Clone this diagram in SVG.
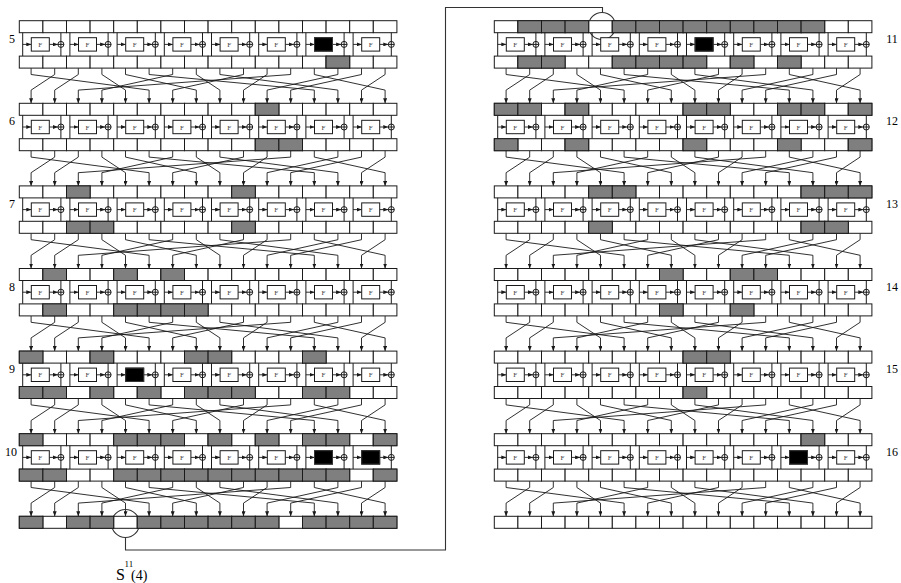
<svg xmlns="http://www.w3.org/2000/svg" width="901" height="583" viewBox="0 0 901 583">
<style>
.c{fill:#fff;stroke:#1a1a1a;stroke-width:1}
.g{fill:#7f7f7f;stroke:#1a1a1a;stroke-width:1}
.k{fill:#000;stroke:#333;stroke-width:1}
.ln{fill:none;stroke:#1a1a1a;stroke-width:1}
.w{fill:none;stroke:#1a1a1a;stroke-width:0.9;marker-end:url(#ah)}
.ft{font-family:"Liberation Serif",serif;font-size:7px;fill:#444;text-anchor:middle}
.lb{font-family:"Liberation Serif",serif;font-size:12px;fill:#000;text-anchor:middle}
.st{font-family:"Liberation Serif",serif;fill:#000}
.loop{fill:none;stroke:#333;stroke-width:1.1}
</style>
<defs>
<marker id="ah" markerWidth="5" markerHeight="4" refX="5" refY="2" orient="auto" markerUnits="userSpaceOnUse"><path d="M0,0L5,2L0,4z" fill="#1a1a1a"/></marker>
<rect id="gc" class="g" width="23.6" height="12"/>
<rect id="kf" class="k" x="12" y="17" width="18" height="13.4"/>
<g id="row">
<rect class="c" x="0" y="0" width="23.6" height="12"/><rect class="c" x="23.6" y="0" width="23.6" height="12"/><rect class="c" x="47.2" y="0" width="23.6" height="12"/><rect class="c" x="70.8" y="0" width="23.6" height="12"/><rect class="c" x="94.4" y="0" width="23.6" height="12"/><rect class="c" x="118" y="0" width="23.6" height="12"/><rect class="c" x="141.6" y="0" width="23.6" height="12"/><rect class="c" x="165.2" y="0" width="23.6" height="12"/><rect class="c" x="188.8" y="0" width="23.6" height="12"/><rect class="c" x="212.4" y="0" width="23.6" height="12"/><rect class="c" x="236" y="0" width="23.6" height="12"/><rect class="c" x="259.6" y="0" width="23.6" height="12"/><rect class="c" x="283.2" y="0" width="23.6" height="12"/><rect class="c" x="306.8" y="0" width="23.6" height="12"/><rect class="c" x="330.4" y="0" width="23.6" height="12"/><rect class="c" x="354" y="0" width="23.6" height="12"/>
</g>
<g id="pair">
<path class="ln" d="M3.4 12V35.4M41.6 12V35.4M38.6 23.7H44.6"/>
<path class="w" d="M3.4 23.7H12"/>
<path class="w" d="M30 23.7H38.6"/>
<rect class="c" x="12" y="17" width="18" height="13.4"/>
<text class="ft" x="21" y="26.3">F</text>
<circle class="ln" cx="41.6" cy="23.7" r="3"/>
</g>
<g id="mid">
<use href="#pair"/><use href="#pair" x="47.2"/><use href="#pair" x="94.4"/><use href="#pair" x="141.6"/><use href="#pair" x="188.8"/><use href="#pair" x="236"/><use href="#pair" x="283.2"/><use href="#pair" x="330.4"/>
</g>
<g id="round"><use href="#row"/><use href="#mid"/><use href="#row" y="35.4"/></g>
<g id="wires">
<path class="w" d="M11.8 0V6.4L129.8 22V35.2"/>
<path class="w" d="M35.4 0V6.4L11.8 22V35.2"/>
<path class="w" d="M59 0V6.4L35.4 22V35.2"/>
<path class="w" d="M82.6 0V6.4L106.2 22V35.2"/>
<path class="w" d="M106.2 0V6.4L177 22V35.2"/>
<path class="w" d="M129.8 0V6.4L295 22V35.2"/>
<path class="w" d="M153.4 0V6.4L82.6 22V35.2"/>
<path class="w" d="M177 0V6.4L200.6 22V35.2"/>
<path class="w" d="M200.6 0V6.4L318.6 22V35.2"/>
<path class="w" d="M224.2 0V6.4L153.4 22V35.2"/>
<path class="w" d="M247.8 0V6.4L224.2 22V35.2"/>
<path class="w" d="M271.4 0V6.4L59 22V35.2"/>
<path class="w" d="M295 0V6.4L365.8 22V35.2"/>
<path class="w" d="M318.6 0V6.4L247.8 22V35.2"/>
<path class="w" d="M342.2 0V6.4L271.4 22V35.2"/>
<path class="w" d="M365.8 0V6.4L342.2 22V35.2"/>
</g>
</defs>
<rect width="901" height="583" fill="#fff"/>

<g id="connectors">
<use href="#wires" transform="translate(19.3,68.1)"/>
<use href="#wires" transform="translate(19.3,150.7)"/>
<use href="#wires" transform="translate(19.3,233.3)"/>
<use href="#wires" transform="translate(19.3,315.9)"/>
<use href="#wires" transform="translate(19.3,398.5)"/>
<use href="#wires" transform="translate(19.3,481.1)"/>
<use href="#wires" transform="translate(494.3,68.1)"/>
<use href="#wires" transform="translate(494.3,150.7)"/>
<use href="#wires" transform="translate(494.3,233.3)"/>
<use href="#wires" transform="translate(494.3,315.9)"/>
<use href="#wires" transform="translate(494.3,398.5)"/>
<use href="#wires" transform="translate(494.3,481.1)"/>
<path class="loop" d="M125.5 537.5V550H445.5V7.5H602.5V12.5"/>
<circle class="loop" cx="125.5" cy="523.5" r="14"/>
<circle class="loop" cx="602" cy="26" r="13.5"/>
</g>

<g id="round5" transform="translate(19.3,20.7)"><use href="#round"/>
<use href="#gc" x="306.8" y="35.4"/>
<use href="#kf" x="283.2"/>
<text class="lb" x="-7.3" y="22">5</text></g>

<g id="round6" transform="translate(19.3,103.3)"><use href="#round"/>
<use href="#gc" x="236"/>
<use href="#gc" x="236" y="35.4"/><use href="#gc" x="259.6" y="35.4"/>
<text class="lb" x="-7.3" y="22">6</text></g>

<g id="round7" transform="translate(19.3,185.9)"><use href="#round"/>
<use href="#gc" x="47.2"/><use href="#gc" x="212.4"/>
<use href="#gc" x="47.2" y="35.4"/><use href="#gc" x="70.8" y="35.4"/><use href="#gc" x="212.4" y="35.4"/>
<text class="lb" x="-7.3" y="22">7</text></g>

<g id="round8" transform="translate(19.3,268.5)"><use href="#round"/>
<use href="#gc" x="23.6"/><use href="#gc" x="94.4"/><use href="#gc" x="141.6"/>
<use href="#gc" x="23.6" y="35.4"/><use href="#gc" x="94.4" y="35.4"/><use href="#gc" x="118" y="35.4"/><use href="#gc" x="141.6" y="35.4"/><use href="#gc" x="165.2" y="35.4"/>
<text class="lb" x="-7.3" y="22">8</text></g>

<g id="round9" transform="translate(19.3,351.1)"><use href="#round"/>
<use href="#gc" x="0"/><use href="#gc" x="70.8"/><use href="#gc" x="165.2"/><use href="#gc" x="188.8"/><use href="#gc" x="283.2"/>
<use href="#kf" x="94.4"/>
<use href="#gc" x="0" y="35.4"/><use href="#gc" x="23.6" y="35.4"/><use href="#gc" x="70.8" y="35.4"/><use href="#gc" x="118" y="35.4"/><use href="#gc" x="165.2" y="35.4"/><use href="#gc" x="188.8" y="35.4"/><use href="#gc" x="212.4" y="35.4"/><use href="#gc" x="283.2" y="35.4"/><use href="#gc" x="306.8" y="35.4"/>
<text class="lb" x="-7.3" y="22">9</text></g>

<g id="round10" transform="translate(19.3,433.7)"><use href="#round"/>
<use href="#gc" x="0"/><use href="#gc" x="94.4"/><use href="#gc" x="118"/><use href="#gc" x="141.6"/><use href="#gc" x="188.8"/><use href="#gc" x="236"/><use href="#gc" x="283.2"/><use href="#gc" x="306.8"/><use href="#gc" x="354"/>
<use href="#kf" x="283.2"/><use href="#kf" x="330.4"/>
<use href="#gc" x="0" y="35.4"/><use href="#gc" x="23.6" y="35.4"/><use href="#gc" x="94.4" y="35.4"/><use href="#gc" x="118" y="35.4"/><use href="#gc" x="141.6" y="35.4"/><use href="#gc" x="165.2" y="35.4"/><use href="#gc" x="188.8" y="35.4"/><use href="#gc" x="212.4" y="35.4"/><use href="#gc" x="236" y="35.4"/><use href="#gc" x="259.6" y="35.4"/><use href="#gc" x="283.2" y="35.4"/><use href="#gc" x="306.8" y="35.4"/><use href="#gc" x="354" y="35.4"/>
<text class="lb" x="-8.3" y="22">10</text></g>

<g id="outputL" transform="translate(19.3,516.3)"><use href="#row"/>
<use href="#gc" x="0"/><use href="#gc" x="47.2"/><use href="#gc" x="70.8"/><use href="#gc" x="118"/><use href="#gc" x="141.6"/><use href="#gc" x="165.2"/><use href="#gc" x="188.8"/><use href="#gc" x="212.4"/><use href="#gc" x="236"/><use href="#gc" x="283.2"/><use href="#gc" x="306.8"/><use href="#gc" x="330.4"/><use href="#gc" x="354"/>
</g>

<g id="round11" transform="translate(494.3,20.7)"><use href="#round"/>
<use href="#gc" x="23.6"/><use href="#gc" x="47.2"/><use href="#gc" x="70.8"/><use href="#gc" x="118"/><use href="#gc" x="141.6"/><use href="#gc" x="165.2"/><use href="#gc" x="188.8"/><use href="#gc" x="212.4"/><use href="#gc" x="236"/><use href="#gc" x="259.6"/><use href="#gc" x="283.2"/><use href="#gc" x="306.8"/>
<use href="#kf" x="188.8"/>
<use href="#gc" x="23.6" y="35.4"/><use href="#gc" x="47.2" y="35.4"/><use href="#gc" x="118" y="35.4"/><use href="#gc" x="141.6" y="35.4"/><use href="#gc" x="165.2" y="35.4"/><use href="#gc" x="188.8" y="35.4"/><use href="#gc" x="236" y="35.4"/><use href="#gc" x="283.2" y="35.4"/>
<text class="lb" x="397.7" y="22">11</text></g>

<g id="round12" transform="translate(494.3,103.3)"><use href="#round"/>
<use href="#gc" x="0"/><use href="#gc" x="23.6"/><use href="#gc" x="70.8"/><use href="#gc" x="188.8"/><use href="#gc" x="212.4"/><use href="#gc" x="283.2"/><use href="#gc" x="306.8"/><use href="#gc" x="354"/>
<use href="#gc" x="0" y="35.4"/><use href="#gc" x="70.8" y="35.4"/><use href="#gc" x="188.8" y="35.4"/><use href="#gc" x="283.2" y="35.4"/><use href="#gc" x="354" y="35.4"/>
<text class="lb" x="397.7" y="22">12</text></g>

<g id="round13" transform="translate(494.3,185.9)"><use href="#round"/>
<use href="#gc" x="94.4"/><use href="#gc" x="118"/><use href="#gc" x="306.8"/><use href="#gc" x="330.4"/><use href="#gc" x="354"/>
<use href="#gc" x="94.4" y="35.4"/><use href="#gc" x="306.8" y="35.4"/><use href="#gc" x="330.4" y="35.4"/>
<text class="lb" x="397.7" y="22">13</text></g>

<g id="round14" transform="translate(494.3,268.5)"><use href="#round"/>
<use href="#gc" x="165.2"/><use href="#gc" x="236"/><use href="#gc" x="259.6"/>
<use href="#gc" x="165.2" y="35.4"/><use href="#gc" x="236" y="35.4"/>
<text class="lb" x="397.7" y="22">14</text></g>

<g id="round15" transform="translate(494.3,351.1)"><use href="#round"/>
<use href="#gc" x="188.8"/><use href="#gc" x="212.4"/>
<use href="#gc" x="188.8" y="35.4"/>
<text class="lb" x="397.7" y="22">15</text></g>

<g id="round16" transform="translate(494.3,433.7)"><use href="#round"/>
<use href="#gc" x="306.8"/>
<use href="#kf" x="283.2"/>
<text class="lb" x="397.7" y="22">16</text></g>

<g id="outputR" transform="translate(494.3,516.3)"><use href="#row"/></g>

<g id="label">
<text class="st" x="116" y="579.5" font-size="16">S</text>
<text class="st" x="124.5" y="567" font-size="9">11</text>
<text class="st" x="131" y="579.5" font-size="14">(4)</text>
</g>
</svg>
